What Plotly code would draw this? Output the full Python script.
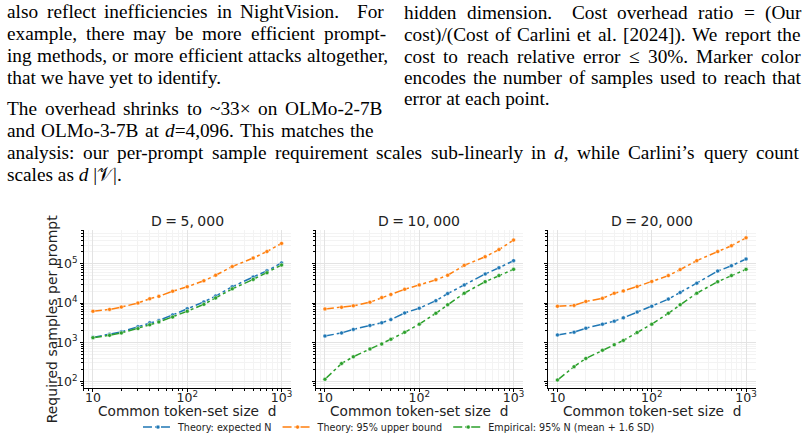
import re
import plotly.graph_objects as go

# ---------------- data ----------------
d_vals = [10, 15, 20, 30, 40, 50, 70, 100, 150, 200, 300, 500, 700, 1000]
panel_titles = ["D\u2005=\u20055,\u2005000", "D\u2005=\u200510,\u2005000", "D\u2005=\u200520,\u2005000"]
series_names = ["Theory: expected N", "Theory: 95% upper bound", "Empirical: 95% N (mean + 1.6 SD)"]

# D = 5,000
p1_expected = [1340, 1600, 1860, 2500, 3150, 3600, 5000, 7200, 10700, 15100, 26000, 46000, 66000, 105000]
p1_upper    = [6200, 6900, 7900, 10000, 12900, 14800, 20000, 26000, 37000, 51000, 85000, 140000, 205000, 330000]
p1_empiric  = [1320, 1510, 1740, 2240, 2800, 3300, 4400, 6200, 9300, 13500, 23000, 40000, 59000, 93000]
# D = 10,000
p2_expected = [1450, 1740, 2140, 2700, 3150, 3800, 5600, 7400, 11500, 17400, 29000, 55000, 79000, 120000]
p2_upper    = [7100, 7800, 8500, 10500, 13800, 16600, 22400, 29000, 39000, 51000, 91000, 151000, 229000, 400000]
p2_empiric  = [115, 290, 430, 680, 910, 1200, 1800, 2900, 5500, 9100, 17800, 35000, 50000, 72000]
# D = 20,000
p3_expected = [1550, 1820, 2290, 2900, 3470, 4200, 5900, 8300, 12600, 18600, 32000, 65000, 89000, 132000]
p3_upper    = [8300, 8700, 11000, 13200, 17800, 20400, 26300, 35500, 50000, 71000, 120000, 204000, 288000, 457000]
p3_empiric  = [110, 240, 390, 630, 870, 1120, 1780, 2900, 5500, 9100, 17800, 35000, 50000, 72000]

panels = [
    (p1_expected, p1_upper, p1_empiric),
    (p2_expected, p2_upper, p2_empiric),
    (p3_expected, p3_upper, p3_empiric),
]

# body text lines of the page (text, justified?)
left_text = [
    ("also reflect inefficiencies in NightVision.  For", True),
    ("example, there may be more efficient prompt-", True),
    ("ing methods, or more efficient attacks altogether,", True),
    ("that we have yet to identify.", False),
    ("The overhead shrinks to ~33\u00d7 on OLMo-2-7B", True),
    ("and OLMo-3-7B at <i>d</i>=4,096. This matches the", True),
]
full_text = [
    ("analysis: our per-prompt sample requirement scales sub-linearly in <i>d</i>, while Carlini\u2019s query count", True),
    ("scales as <i>d</i> |\U0001D4B1|.", False),
]
right_text = [
    ("hidden dimension.  Cost overhead ratio = (Our", True),
    ("cost)/(Cost of Carlini et al. [2024]). We report the", True),
    ("cost to reach relative error \u2264 30%. Marker color", True),
    ("encodes the number of samples used to reach that", True),
    ("error at each point.", False),
]

# ---------------- figure ----------------
W, H = 806, 442
colors = ["#1f77b4", "#ff7f0e", "#2ca02c"]
x_domains = [(83.5 / W, 291 / W), (315.5 / W, 523 / W), (548 / W, 755.5 / W)]
y_domain = (1 - 392 / H, 1 - 233 / H)

fig = go.Figure()
for i, vals in enumerate(panels):
    xa = "x" if i == 0 else f"x{i+1}"
    ya = "y" if i == 0 else f"y{i+1}"
    for j, (name, ys) in enumerate(zip(series_names, vals)):
        fig.add_trace(go.Scatter(
            x=d_vals, y=ys, name=name, xaxis=xa, yaxis=ya,
            mode="lines+markers",
            line=dict(color=colors[j], width=1.5, dash="dashdot"),
            marker=dict(size=4, color=colors[j], line=dict(color="white", width=0.5)),
            showlegend=(i == 0), legendgroup=name,
        ))

tickfont = dict(family="DejaVu Sans", size=10, color="#222")
layout = dict(
    width=W, height=H,
    margin=dict(l=0, r=0, t=0, b=0),
    paper_bgcolor="white", plot_bgcolor="white",
    showlegend=True,
    legend=dict(orientation="h", x=0.495, xanchor="center", y=1 - 432 / H, yanchor="middle",
                font=dict(family="DejaVu Sans", size=9.6, color="#222"),
                itemwidth=30, bgcolor="rgba(0,0,0,0)"),
)
for i in range(3):
    xk = "xaxis" if i == 0 else f"xaxis{i+1}"
    yk = "yaxis" if i == 0 else f"yaxis{i+1}"
    common = dict(
        type="log", dtick=1, exponentformat="power", showexponent="all",
        showline=True, linecolor="black", linewidth=1, mirror=False,
        ticks="outside", ticklen=3, tickcolor="black", tickfont=tickfont,
        showgrid=True, gridcolor="#e3e3e3", gridwidth=1, zeroline=False,
        minor=dict(ticks="outside", ticklen=2, tickcolor="black", showgrid=True,
                   gridcolor="#f3f3f3", dtick="D1"),
    )
    layout[xk] = dict(common, range=[0.9, 3.1], domain=x_domains[i],
                      anchor="y" if i == 0 else f"y{i+1}", ticklabelstandoff=-4)
    layout[yk] = dict(common, range=[1.85, 5.85], domain=y_domain,
                      anchor="x" if i == 0 else f"x{i+1}", showticklabels=(i == 0))
fig.update_layout(**layout)

annotations = []
for i in range(3):
    cx = (x_domains[i][0] + x_domains[i][1]) / 2
    annotations.append(dict(text=panel_titles[i], x=cx, y=1 - 224 / H, xref="paper", yref="paper",
                            showarrow=False, font=dict(family="DejaVu Sans", size=14, color="#222"),
                            xanchor="center", yanchor="middle"))
    annotations.append(dict(text="Common token-set size  d", x=cx, y=1 - 416 / H, xref="paper", yref="paper",
                            showarrow=False, font=dict(family="DejaVu Sans", size=13.7, color="#222"),
                            xanchor="center", yanchor="middle"))
annotations.append(dict(text="Required samples per prompt", x=52 / W, y=1 - 323 / H, xref="paper", yref="paper",
                        showarrow=False, font=dict(family="DejaVu Sans", size=14, color="#222"),
                        textangle=-90, xanchor="center", yanchor="middle"))

# ---- page text, justified using Times (Liberation Serif) advance widths ----
FS = 19.3
TW = {' ': 250, ',': 250, '.': 250, ':': 278, ';': 278, '-': 333, '(': 333, ')': 333, '[': 333, ']': 333,
      '/': 278, '=': 564, '%': 833, "'": 333, '\u2019': 333, '\u2264': 549, '~': 541, '\u00d7': 564,
      '|': 200}
for c, w in zip("abcdefghijklmnopqrstuvwxyz",
                [444, 500, 444, 500, 444, 333, 500, 500, 278, 278, 500, 278, 778, 500, 500, 500, 500, 333,
                 389, 278, 500, 500, 722, 500, 500, 444]):
    TW[c] = w
for c, w in zip("ABCDEFGHIJKLMNOPQRSTUVWXYZ",
                [722, 667, 667, 722, 611, 556, 722, 722, 333, 389, 722, 611, 889, 722, 722, 556, 722, 667,
                 556, 611, 722, 722, 944, 722, 722, 611]):
    TW[c] = w
for c in "0123456789":
    TW[c] = 500


def text_w(s):
    plain = re.sub(r"<[^>]+>", "", s)
    return sum(TW.get(c, 600) for c in plain) * FS / 1000.0


serif = dict(family="Liberation Serif", size=FS, color="black")


def place_line(text, x0, x1, y, justify):
    if not justify:
        annotations.append(dict(text=text, x=x0 / W, y=1 - y / H, xref="paper", yref="paper", showarrow=False,
                                font=serif, xanchor="left", yanchor="middle", borderpad=0, borderwidth=0))
        return
    parts = text.split(" ")
    words, gaps = [], []
    k = 0
    for p in parts:
        if p == "":
            k += 1
            continue
        if words:
            gaps.append(k + 1)
        words.append(p)
        k = 0
    ww = [text_w(w) for w in words]
    space = TW[' '] * FS / 1000.0
    natural = sum(ww) + sum(g * space for g in gaps)
    extra = (x1 - x0) - natural
    tot_g = sum(gaps) if gaps else 1
    x = x0
    for idx, w in enumerate(words):
        annotations.append(dict(text=w, x=x / W, y=1 - y / H, xref="paper", yref="paper", showarrow=False,
                                font=serif, xanchor="left", yanchor="middle", borderpad=0, borderwidth=0))
        if idx < len(gaps):
            x += ww[idx] + gaps[idx] * (space + extra / tot_g)


left_y = [12, 34, 56, 78, 110, 132]
left_x1 = [384, 386, 389, 0, 383, 374]
for (t, j), yy, x1 in zip(left_text, left_y, left_x1):
    place_line(t, 7, x1, yy, j)
for (t, j), yy in zip(full_text, [154, 176]):
    place_line(t, 7, 799, yy, j)
right_y = [13, 35, 57, 78, 100]
for (t, j), yy in zip(right_text, right_y):
    place_line(t, 404, 801, yy, j)

fig.update_layout(annotations=annotations)
fig.write_html("out.html")
